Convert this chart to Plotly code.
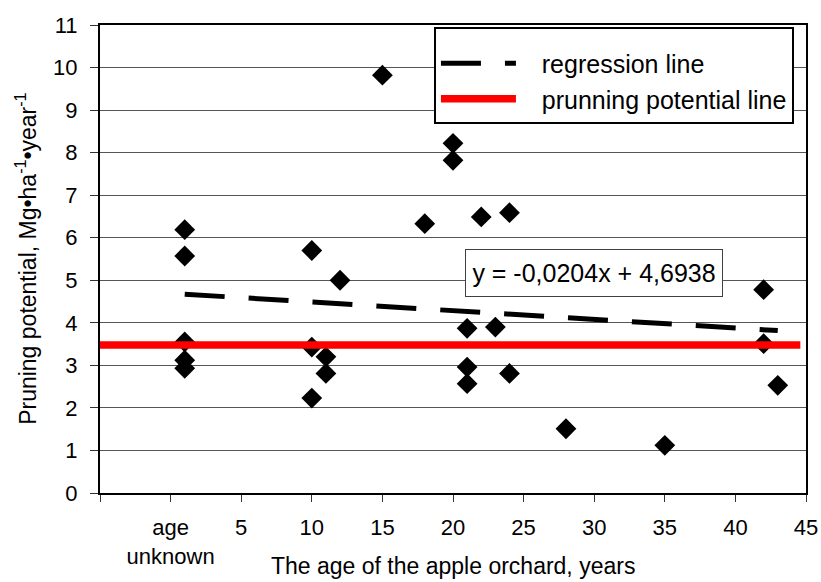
import plotly.graph_objects as go

# ---- data ----
ages = [1, 1, 1, 1, 1,
        10, 10, 10,
        11, 11,
        12,
        15,
        18,
        20, 20,
        21, 21, 21,
        22,
        23,
        24, 24,
        28,
        35,
        42, 42,
        43]
potential = [6.19, 5.57, 3.55, 3.12, 2.93,
             5.70, 3.43, 2.23,
             3.20, 2.81,
             5.00,
             9.82,
             6.33,
             8.22, 7.82,
             3.87, 2.96, 2.57,
             6.49,
             3.90,
             6.59, 2.81,
             1.51,
             1.12,
             4.78, 3.51,
             2.53]

reg_slope = -0.0204
reg_intercept = 4.6938
reg_label = "y = -0,0204x + 4,6938"

prunning_level = 3.48
prunning_x = [-5, 44.6]

x_tick_vals = [-5, 0, 5, 10, 15, 20, 25, 30, 35, 40, 45]
x_tick_text = ["", "age<br>unknown", "5", "10", "15", "20", "25", "30", "35", "40", "45"]
y_tick_vals = list(range(0, 12))

FONT = "Liberation Sans, Arial, sans-serif"
GAP = "\u00a0\u00a0\u00a0"

reg_x = [min(ages), max(ages)]
reg_y = [reg_slope * v + reg_intercept for v in reg_x]

fig = go.Figure()

fig.add_trace(go.Scatter(
    x=ages, y=potential, mode="markers",
    marker=dict(symbol="diamond", size=16, color="black", line=dict(width=0)),
    showlegend=False, hoverinfo="skip"))

fig.add_trace(go.Scatter(
    x=reg_x, y=reg_y, mode="lines", name=GAP + "regression line",
    line=dict(color="black", width=5, dash="40px,24px")))

fig.add_trace(go.Scatter(
    x=prunning_x, y=[prunning_level] * len(prunning_x), mode="lines",
    name=GAP + "prunning potential line",
    line=dict(color="#ff0000", width=7.5)))

fig.update_layout(
    width=821, height=582,
    margin=dict(l=100, r=15, t=25, b=89, autoexpand=False),
    paper_bgcolor="white", plot_bgcolor="white",
    font=dict(family=FONT, color="black", size=22),
    legend=dict(
        x=0.473, y=0.996, xanchor="left", yanchor="top",
        bgcolor="white", bordercolor="black", borderwidth=2,
        font=dict(family=FONT, size=25, color="black"),
        title=dict(text="\u00a0", font=dict(size=9)),
        itemwidth=75, tracegroupgap=0),
    xaxis=dict(
        range=[-5, 45], tickmode="array", tickvals=x_tick_vals, ticktext=x_tick_text,
        ticks="outside", ticklen=7, tickcolor="#333", tickwidth=1,
        ticklabelstandoff=7,
        showline=True, linecolor="black", linewidth=2, mirror=True,
        showgrid=False, zeroline=False,
        tickfont=dict(family=FONT, size=22, color="black")),
    yaxis=dict(
        range=[0, 11], tickmode="array", tickvals=y_tick_vals,
        ticks="outside", ticklen=8, tickcolor="#333", tickwidth=1,
        ticklabelstandoff=8,
        showline=True, linecolor="black", linewidth=2, mirror=True,
        showgrid=True, gridcolor="#555", gridwidth=1, zeroline=False,
        tickfont=dict(family=FONT, size=22, color="black")),
    annotations=[
        dict(text=reg_label, x=30, y=5.17, xref="x", yref="y",
             showarrow=False, font=dict(family=FONT, size=25, color="black"),
             width=252, height=42, align="center", valign="middle",
             bgcolor="white", bordercolor="#404040", borderwidth=1, borderpad=2),
        dict(text="The age of the apple orchard, years", x=0.5, y=-0.156,
             xref="paper", yref="paper", xanchor="center", yanchor="middle",
             showarrow=False, font=dict(family=FONT, size=23, color="black")),
        dict(text="Pruning potential, Mg•ha<sup>-1</sup>•year<sup>-1</sup>",
             x=-0.105, y=0.5, xref="paper", yref="paper",
             xanchor="center", yanchor="middle", textangle=-90,
             showarrow=False, font=dict(family=FONT, size=23, color="black")),
    ],
)

fig.write_html("out.html", config={"displayModeBar": False},
               post_script="document.body.style.margin='0';")
